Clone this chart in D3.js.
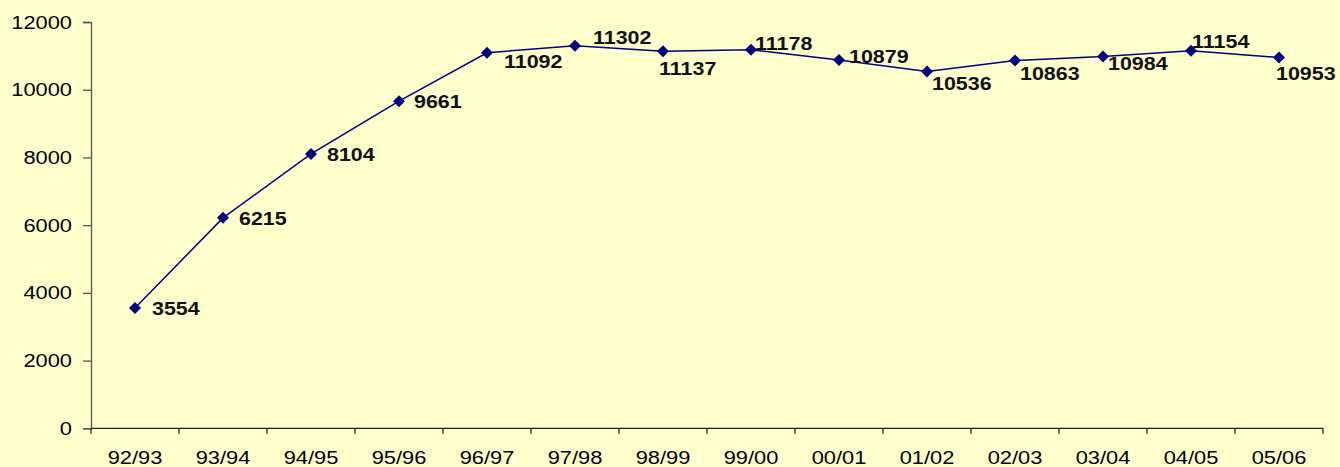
<!DOCTYPE html>
<html>
<head>
<meta charset="utf-8">
<script src="https://cdn.jsdelivr.net/npm/d3@7"></script>
<style>
  html, body { margin: 0; padding: 0; background: #FFFFCC; }
  svg { display: block; }
  text { font-family: Arial, "Liberation Sans", sans-serif; }
</style>
</head>
<body>
<svg id="chart" width="1340" height="467"></svg>
<script>
// data
const seasons = ['92/93', '93/94', '94/95', '95/96', '96/97', '97/98', '98/99',
                 '99/00', '00/01', '01/02', '02/03', '03/04', '04/05', '05/06']
const values = [3554, 6215, 8104, 9661, 11092, 11302, 11137,
                11178, 10879, 10536, 10863, 10984, 11154, 10953]
const yTicks = [0, 2000, 4000, 6000, 8000, 10000, 12000]

// where each value label sits relative to its point (dx, dy)
const labelOffsets = [[17, 7], [16, 7], [16, 7], [15, 7], [17, 15], [18, -2], [-4, 24],
                      [4, 0], [10, 3.5], [5, 18], [5, 20], [5, 13.5], [1, -2.5], [-3, 23]]

const svg = d3.select('#chart')
const plotLeft = 91, plotRight = 1323, plotTop = 22, plotBottom = 428.3
const stretch = 1.15 // the original text is drawn a bit wide

const x = d3.scaleBand()
  .domain(seasons)
  .range([plotLeft, plotRight])

const y = d3.scaleLinear()
  .domain([0, 12000])
  .range([plotBottom, plotTop])

// y axis
const yAxis = svg.append('g')
  .attr('transform', `translate(${plotLeft},0)`)
  .call(d3.axisLeft(y).tickValues(yTicks).tickSize(8).tickPadding(11).tickFormat(d3.format('d')))
yAxis.select('.domain').attr('stroke', '#555').attr('stroke-width', 1.3)
yAxis.selectAll('.tick line').attr('stroke', '#555').attr('stroke-width', 1.3)
yAxis.selectAll('.tick text')
  .attr('fill', '#000')
  .style('font-size', '19px')
  .each(function() {
    const t = d3.select(this)
    const tx = +t.attr('x')
    t.attr('x', 0).attr('transform', `translate(${tx},0) scale(${stretch},1)`)
  })

// x axis, ticks between categories
const xAxis = svg.append('g')
  .attr('transform', `translate(0,${plotBottom})`)
xAxis.append('line')
  .attr('x1', plotLeft).attr('x2', plotRight)
  .attr('stroke', '#222').attr('stroke-width', 1.3)
xAxis.selectAll('.tk')
  .data(seasons.concat(['end']))
  .enter().append('line')
  .attr('class', 'tk')
  .attr('x1', (d, i) => plotLeft + i * x.step())
  .attr('x2', (d, i) => plotLeft + i * x.step())
  .attr('y1', 0).attr('y2', 5.5)
  .attr('stroke', '#222').attr('stroke-width', 1.3)
xAxis.selectAll('.lbl')
  .data(seasons)
  .enter().append('text')
  .attr('class', 'lbl')
  .attr('transform', d => `translate(${x(d) + x.bandwidth() / 2},36) scale(${stretch},1)`)
  .attr('text-anchor', 'middle')
  .style('font-size', '19px')
  .text(d => d)

// line
const pts = seasons.map((s, i) => ({ s: s, v: values[i], i: i }))

svg.append('path')
  .datum(pts)
  .attr('fill', 'none')
  .attr('stroke', '#000080')
  .attr('stroke-width', 1.5)
  .attr('d', d3.line()
    .x(d => x(d.s) + x.bandwidth() / 2)
    .y(d => y(d.v)))

svg.selectAll('.marker')
  .data(pts)
  .enter().append('path')
  .attr('class', 'marker')
  .attr('fill', '#000080')
  .attr('transform', d => `translate(${x(d.s) + x.bandwidth() / 2},${y(d.v)})`)
  .attr('d', 'M0,-6L6,0L0,6L-6,0Z')

svg.selectAll('.val')
  .data(pts)
  .enter().append('text')
  .attr('class', 'val')
  .attr('transform', d => `translate(${x(d.s) + x.bandwidth() / 2 + labelOffsets[d.i][0]},${y(d.v) + labelOffsets[d.i][1]}) scale(1.13,1)`)
  .style('font-size', '19px')
  .style('font-weight', 'bold')
  .attr('fill', '#111')
  .text(d => d.v)
</script>
</body>
</html>
